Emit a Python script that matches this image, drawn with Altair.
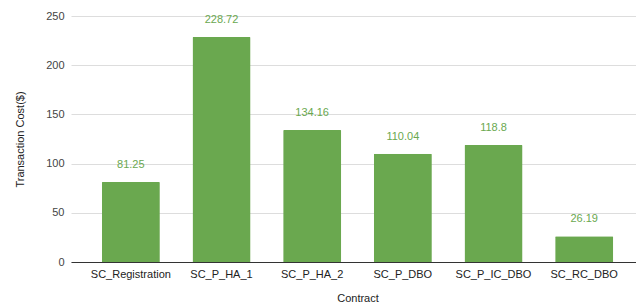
import altair as alt
import pandas as pd

contracts = ["SC_Registration", "SC_P_HA_1", "SC_P_HA_2", "SC_P_DBO", "SC_P_IC_DBO", "SC_RC_DBO"]
costs = [81.25, 228.72, 134.16, 110.04, 118.8, 26.19]
labels = ["81.25", "228.72", "134.16", "110.04", "118.8", "26.19"]

df = pd.DataFrame({"Contract": contracts, "Cost": costs, "Label": labels})

FONT = "Liberation Sans"
GREEN = "#6aa84f"

x = alt.X("Contract:N", sort=contracts,
          scale=alt.Scale(paddingInner=0.36, paddingOuter=0.34, range=[0, 573]),
          axis=alt.Axis(title="Contract", labelAngle=0, ticks=False,
                        domainColor="#333333", labelColor="#222222",
                        labelFontSize=11, labelFont=FONT, labelPadding=6,
                        titleFont=FONT, titleFontSize=11, titleFontWeight="normal",
                        titleColor="#222222", titlePadding=13, grid=False))
y = alt.Y("Cost:Q", scale=alt.Scale(domain=[0, 250], nice=False),
          axis=alt.Axis(title="Transaction Cost($)", values=[0, 50, 100, 150, 200, 250],
                        domain=False, ticks=False, labelColor="#444444",
                        labelFontSize=11, labelFont=FONT, labelPadding=7,
                        gridColor="#dddddd", titleFont=FONT, titleFontSize=11,
                        titleFontWeight="normal", titleColor="#222222", titlePadding=20))

base = alt.Chart(df).encode(x=x, y=y)
bars = base.mark_bar(color=GREEN, cornerRadiusTopLeft=1, cornerRadiusTopRight=1)
text = base.mark_text(color=GREEN, font=FONT, fontSize=11, baseline="middle", dy=-17).encode(text="Label:N")

chart = (bars + text).properties(
    width=565, height=246,
    autosize=alt.AutoSizeParams(type="none"),
    padding={"left": 63, "top": 8, "right": 0, "bottom": 45},
).configure_view(stroke=None)

chart.save("out.html", embed_options={"renderer": "svg", "actions": False})
